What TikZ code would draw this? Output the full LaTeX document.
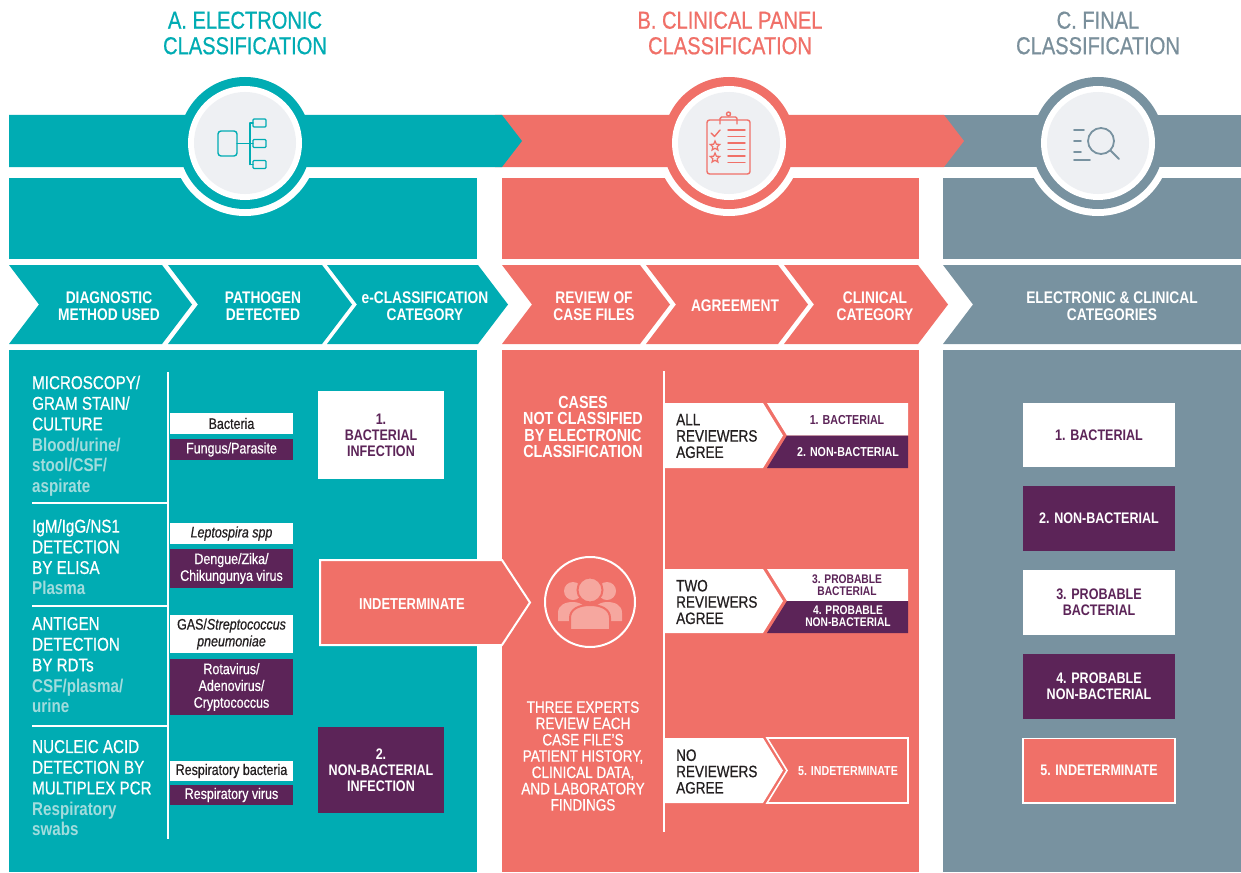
\documentclass[tikz,border=0pt]{standalone}
\usepackage{fontspec}
\setmainfont{Liberation Sans}[FakeStretch=0.82, UprightFeatures={FakeBold=0.6}, ItalicFeatures={FakeBold=0.6}]
\usetikzlibrary{shapes.geometric}
\definecolor{cteal}{HTML}{00ACB3}
\definecolor{ccoral}{HTML}{F07068}
\definecolor{cgrey}{HTML}{7892A0}
\definecolor{cpurple}{HTML}{5C2458}
\definecolor{cltteal}{HTML}{A2DCDD}
\definecolor{cdark}{HTML}{231F20}
\definecolor{corbin}{HTML}{EEF0F3}
\definecolor{corbout}{HTML}{BCC7D2}
\definecolor{cpeople}{HTML}{F6A79F}
\definecolor{ttlgrey}{HTML}{7A8F9B}
\pgfdeclareradialshading{orb}{\pgfpoint{0bp}{0bp}}{color(0bp)=(corbin); color(26bp)=(corbin); color(50bp)=(corbout)}
\newcommand\fsz[2]{\fontsize{#1}{#2}\selectfont}
\begin{document}
\begin{tikzpicture}[x=1pt,y=-1pt,
  ttl/.style={font=\fsz{24.5}{25.5}, align=center, inner sep=0},
  chevlab/.style={font=\bfseries\fsz{16.8}{16.8}, text=white, align=center, inner sep=0},
  lab/.style={font=\fsz{18.5}{20.7}, text=white, align=left, inner sep=0, anchor=west},
  pbox/.style={minimum width=123, inner sep=0, align=center, font=\fsz{15.2}{16.8}},
  pwhite/.style={pbox, fill=white, text=cdark},
  ppurple/.style={pbox, fill=cpurple, text=white},
  catbox/.style={minimum width=126, inner sep=0, align=center, font=\bfseries\fsz{15.3}{16}},
  finbox/.style={minimum width=152, minimum height=64.5, inner sep=0, align=center, font=\bfseries\fsz{15.3}{16}},
  agrlab/.style={font=\fsz{16.5}{16.3}, text=cdark, align=left, inner sep=0, anchor=west},
  agrcat/.style={font=\bfseries\fsz{13}{12.5}, align=center, inner sep=0},
  thin/.style={white, line width=1.3},
  icon/.style={line width=1.4, line cap=round, line join=round}
]
\fill[white] (0,0) rectangle (1241,872);
\useasboundingbox (0,0) rectangle (1241,872);

% centers
\coordinate (cA) at (245,143);
\coordinate (cB) at (729,143);
\coordinate (cC) at (1098,143);

% titles
\node[ttl, text=cteal] (tA) at (245,33) {A. ELECTRONIC\\CLASSIFICATION};
\node[ttl, text=ccoral] (tB) at (730,33) {B. CLINICAL PANEL\\CLASSIFICATION};
\node[ttl, text=ttlgrey] (tC) at (1098,33) {C. FINAL\\CLASSIFICATION};

% band 2
\fill[cteal] (9,178) rectangle (477,259);
\fill[ccoral] (502,178) rectangle (919,259);
\fill[cgrey] (943,178) rectangle (1241,259);

% white rings
\foreach \c in {cA,cB,cC} \fill[white] (\c) circle (73);

% band 1
\fill[cgrey] (940,115) -- (1241,115) -- (1241,167) -- (940,167) -- cycle;
\fill[ccoral] (495,115) -- (944,115) -- (964,141) -- (944,167) -- (495,167) -- cycle;
\fill[cteal] (9,115) -- (502,115) -- (522,141) -- (502,167) -- (9,167) -- cycle;

% medallions
\fill[cteal] (cA) circle (66);
\fill[ccoral] (cB) circle (66);
\fill[cgrey] (cC) circle (66);
\foreach \c in {cA,cB,cC} {
  \fill[white] (\c) circle (57);
  \shade[shading=orb] (\c) circle (51);
}

% icon A: hierarchy
\begin{scope}[icon, cteal]
\draw[rounded corners=3] (218,131) rectangle (237,156);
\draw (237,143.5) -- (250,143.5);
\draw (250,123) -- (250,164.5);
\draw (250,123) -- (253,123);
\draw (250,143.5) -- (253,143.5);
\draw (250,164.5) -- (253,164.5);
\draw[rounded corners=1] (253,119) rectangle (266,127);
\draw[rounded corners=1] (253,139.5) rectangle (266,147.5);
\draw[rounded corners=1] (253,160.5) rectangle (266,168.5);
\end{scope}

% icon B: clipboard
\begin{scope}[icon, ccoral]
\draw[rounded corners=2.5] (707,120) rectangle (750,174);
\draw[rounded corners=1.5] (720,124) -- (720,117) -- (737,117) -- (737,124);
\draw (728.5,114) circle (2);
\draw (711,133) -- (714.5,136.5) -- (720,130);
\draw (728,130) -- (745,130);
\draw (728,136.5) -- (745,136.5);
\draw (728,143) -- (745,143);
\draw (728,149.5) -- (745,149.5);
\draw (728,156) -- (745,156);
\draw (728,162.5) -- (745,162.5);
\end{scope}
\node[star, star points=5, star point ratio=2.2, draw=ccoral, line width=1.2, minimum size=10, inner sep=0] (starA) at (715,146) {};
\node[star, star points=5, star point ratio=2.2, draw=ccoral, line width=1.2, minimum size=10, inner sep=0] (starB) at (715,158) {};

% icon C: search
\begin{scope}[icon, cgrey, line width=1.8]
\draw (1074,130) -- (1084,130);
\draw (1074,141) -- (1081,141);
\draw (1074,152) -- (1081,152);
\draw (1074,160) -- (1090,160);
\draw (1101,141) circle (13);
\draw (1110.5,150.5) -- (1119,159);
\end{scope}

% chevron row
\fill[cteal] (9,265) -- (162,265) -- (192,304.5) -- (162,344) -- (9,344) -- (39,304.5) -- cycle;
\fill[cteal] (168,265) -- (322,265) -- (352,304.5) -- (322,344) -- (168,344) -- (198,304.5) -- cycle;
\fill[cteal] (327,265) -- (478,265) -- (508,304.5) -- (478,344) -- (327,344) -- (357,304.5) -- cycle;
\fill[ccoral] (502,265) -- (640,265) -- (670,304.5) -- (640,344) -- (502,344) -- (532,304.5) -- cycle;
\fill[ccoral] (646,265) -- (778,265) -- (808,304.5) -- (778,344) -- (646,344) -- (676,304.5) -- cycle;
\fill[ccoral] (784,265) -- (918,265) -- (948,304.5) -- (918,344) -- (784,344) -- (814,304.5) -- cycle;
\fill[cgrey] (943,265) -- (1241,265) -- (1241,344) -- (943,344) -- (973,304.5) -- cycle;

\node[chevlab] (h1) at (109,306) {DIAGNOSTIC\\METHOD USED};
\node[chevlab] (h2) at (263,306) {PATHOGEN\\DETECTED};
\node[chevlab] (h3) at (425,306) {e-CLASSIFICATION\\CATEGORY};
\node[chevlab] (h4) at (594,306) {REVIEW OF\\CASE FILES};
\node[chevlab] (h5) at (735,306) {AGREEMENT};
\node[chevlab] (h6) at (875,306) {CLINICAL\\CATEGORY};
\node[chevlab] (h7) at (1112,306) {ELECTRONIC \& CLINICAL\\CATEGORIES};

% panel bodies
\fill[cteal] (9,350) rectangle (477,872);
\fill[ccoral] (502,350) rectangle (919,872);
\fill[cgrey] (943,350) rectangle (1241,872);

% ---- panel A ----
\draw[thin] (168,372) -- (168,839);
\draw[thin] (32,503) -- (168,503);
\draw[thin] (32,606) -- (168,606);
\draw[thin] (32,726) -- (168,726);

\node[lab] (m1) at (32,436) {MICROSCOPY/\\GRAM STAIN/\\CULTURE\\{\color{cltteal}\bfseries Blood/urine/}\\{\color{cltteal}\bfseries stool/CSF/}\\{\color{cltteal}\bfseries aspirate}};
\node[lab] (m2) at (32,557) {IgM/IgG/NS1\\DETECTION\\BY ELISA\\{\color{cltteal}\bfseries Plasma}};
\node[lab] (m3) at (32,665) {ANTIGEN\\DETECTION\\BY RDTs\\{\color{cltteal}\bfseries CSF/plasma/}\\{\color{cltteal}\bfseries urine}};
\node[lab] (m4) at (32,788) {NUCLEIC ACID\\DETECTION BY\\MULTIPLEX PCR\\{\color{cltteal}\bfseries Respiratory}\\{\color{cltteal}\bfseries swabs}};

\node[pwhite, minimum height=21] (p1) at (231.5,423.5) {Bacteria};
\node[ppurple, minimum height=21] (p2) at (231.5,449.5) {Fungus/Parasite};
\node[pwhite, minimum height=21] (p3) at (231.5,533.5) {\itshape Leptospira spp};
\node[ppurple, minimum height=39] (p4) at (231.5,568.5) {Dengue/Zika/\\Chikungunya virus};
\node[pwhite, minimum height=38] (p5) at (231.5,634) {GAS/\textit{Streptococcus}\\\textit{pneumoniae}};
\node[ppurple, minimum height=56] (p6) at (231.5,687) {Rotavirus/\\Adenovirus/\\Cryptococcus};
\node[pwhite, minimum height=20] (p7) at (231.5,771) {Respiratory bacteria};
\node[ppurple, minimum height=20] (p8) at (231.5,795) {Respiratory virus};

\node[catbox, fill=white, text=cpurple, minimum height=88] (e1) at (381,435) {1.\\BACTERIAL\\INFECTION};
\node[catbox, fill=cpurple, text=white, minimum height=86] (e2) at (381,770) {2.\\NON-BACTERIAL\\INFECTION};

% indeterminate arrow
\filldraw[fill=ccoral, draw=white, line width=2] (320,560) -- (502,560) -- (530,602.5) -- (502,645) -- (320,645) -- cycle;
\node[font=\bfseries\fsz{15.8}{16}, text=white, inner sep=0] (ind) at (412,604) {INDETERMINATE};

% ---- panel B ----
\node[font=\bfseries\fsz{17.5}{16.4}, text=white, align=center, inner sep=0] (cases) at (583,427) {CASES\\NOT CLASSIFIED\\BY ELECTRONIC\\CLASSIFICATION};
\node[font=\fsz{16.5}{16.3}, text=white, align=center, inner sep=0] (three) at (583,756) {THREE EXPERTS\\REVIEW EACH\\CASE FILE’S\\PATIENT HISTORY,\\CLINICAL DATA,\\AND LABORATORY\\FINDINGS};

\draw[white, line width=2] (590,602) circle (45);
\fill[cpeople] (573,591) circle (9);
\fill[cpeople] (607,591) circle (9);
\fill[cpeople] (558,621) -- (558,613) .. controls (558,605) and (565,602) .. (573,602) .. controls (578,602) and (582,604) .. (585,607) -- (585,621) -- cycle;
\fill[cpeople] (622,621) -- (622,613) .. controls (622,605) and (615,602) .. (607,602) .. controls (602,602) and (598,604) .. (595,607) -- (595,621) -- cycle;
\filldraw[fill=cpeople, draw=ccoral, line width=2] (590,590) circle (12.5);
\filldraw[fill=cpeople, draw=ccoral, line width=2] (570,630) -- (570,618) .. controls (570,609) and (579,605) .. (590,605) .. controls (601,605) and (610,609) .. (610,618) -- (610,630) -- cycle;

\draw[thin] (664,371) -- (664,832);

% agreement group 1
\fill[white] (664,403) -- (763,403) -- (783,435.5) -- (763,468) -- (664,468) -- cycle;
\fill[white] (767,403) -- (908,403) -- (908,435.5) -- (787,435.5) -- cycle;
\fill[cpurple] (787,435.5) -- (908,435.5) -- (908,468) -- (767,468) -- cycle;
\node[agrlab] (g1) at (676,436) {ALL\\REVIEWERS\\AGREE};
\node[agrcat, text=cpurple] (g1a) at (847,420) {1. BACTERIAL};
\node[agrcat, text=white] (g1b) at (848,452) {2. NON-BACTERIAL};

% agreement group 2
\fill[white] (664,569) -- (763,569) -- (783,601) -- (763,633) -- (664,633) -- cycle;
\fill[white] (767,569) -- (908,569) -- (908,601) -- (787,601) -- cycle;
\fill[cpurple] (787,601) -- (908,601) -- (908,633) -- (767,633) -- cycle;
\node[agrlab] (g2) at (676,602) {TWO\\REVIEWERS\\AGREE};
\node[agrcat, text=cpurple, font=\bfseries\fsz{12.5}{12}] (g2a) at (847,585.5) {3. PROBABLE\\BACTERIAL};
\node[agrcat, text=white, font=\bfseries\fsz{12.5}{12}] (g2b) at (848,616) {4. PROBABLE\\NON-BACTERIAL};

% agreement group 3
\fill[white] (664,738) -- (763,738) -- (783,770.5) -- (763,803) -- (664,803) -- cycle;
\draw[white, line width=1.6] (767,738) -- (908,738) -- (908,803) -- (767,803) -- (787,770.5) -- cycle;
\node[agrlab] (g3) at (676,771.5) {NO\\REVIEWERS\\AGREE};
\node[agrcat, text=white] (g3a) at (848,771) {5. INDETERMINATE};

% ---- panel C ----
\node[finbox, fill=white, text=cpurple] (f1) at (1099,435) {1. BACTERIAL};
\node[finbox, fill=cpurple, text=white] (f2) at (1099,518.5) {2. NON-BACTERIAL};
\node[finbox, fill=white, text=cpurple] (f3) at (1099,602.5) {3. PROBABLE\\BACTERIAL};
\node[finbox, fill=cpurple, text=white] (f4) at (1099,686.5) {4. PROBABLE\\NON-BACTERIAL};
\node[finbox, fill=ccoral, text=white, draw=white, line width=1.5] (f5) at (1099,770.5) {5. INDETERMINATE};
\end{tikzpicture}
\end{document}
